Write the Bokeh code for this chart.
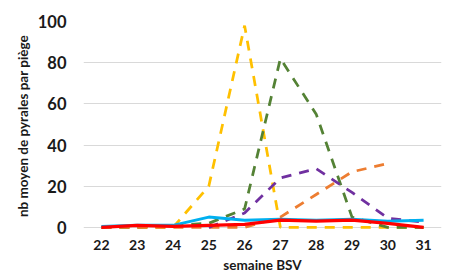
from bokeh.plotting import figure
from bokeh.models import Range1d, FixedTicker
from bokeh.embed import file_html
from bokeh.resources import INLINE

weeks = [22, 23, 24, 25, 26, 27, 28, 29, 30, 31]
y_ticks = [0, 20, 40, 60, 80, 100]

yellow_vals = [0, 0, 0, 20, 98, 0, 0, 0, 0, 0]
green_vals = [0, 0, 1, 2, 9, 82, 55, 5, 0, 0]
orange_vals = [0, 0, 0, 0, 0, 5, 16, 27, 31]
purple_vals = [None, None, None, 0, 7, 24, 28.5, 17, 4.5, 2.5]
blue_vals = [0.5, 1, 1, 5, 3.5, 4, 3.5, 4, 3, 3.5]
red_vals = [0, 1, 0.5, 1, 1.5, 3.5, 3, 3.5, 2, 0]

FONT = "Lato"

p = figure(width=449, height=276, output_backend="svg", toolbar_location=None,
           x_range=Range1d(21.5, 31.5), y_range=Range1d(-1.5, 100),
           min_border_left=83, min_border_right=8, min_border_top=21,
           min_border_bottom=46)
p.outline_line_color = None
p.background_fill_color = "white"
p.border_fill_color = "white"

p.xgrid.grid_line_color = None
p.ygrid.grid_line_color = "#D9D9D9"
p.ygrid.grid_line_width = 1
p.yaxis.ticker = FixedTicker(ticks=y_ticks)
p.xaxis.ticker = FixedTicker(ticks=weeks)

for ax in (p.xaxis, p.yaxis):
    ax.axis_line_color = None
    ax.major_tick_line_color = None
    ax.minor_tick_line_color = None
    ax.major_tick_out = 0
    ax.major_tick_in = 0
    ax.major_label_text_font = FONT
    ax.major_label_text_font_style = "bold"
    ax.major_label_text_color = "#1a1a1a"
    ax.axis_label_text_font = FONT
    ax.axis_label_text_font_style = "bold"
    ax.axis_label_text_color = "#1a1a1a"

p.yaxis.major_label_text_font_size = "16.5px"
p.yaxis.major_label_standoff = 17
p.yaxis.axis_label = "nb moyen de pyrales par piège"
p.yaxis.axis_label_text_font_size = "13.5px"
p.yaxis.axis_label_standoff = 4

p.xaxis.major_label_text_font_size = "14px"
p.xaxis.major_label_standoff = 9
p.xaxis.axis_label = "semaine BSV"
p.xaxis.axis_label_text_font_size = "13.5px"
p.xaxis.axis_label_standoff = 4

dash = "10 8"
w = 2.75
p.line(weeks, yellow_vals, line_color="#FFC000", line_width=w, line_dash=dash)
p.line(weeks, green_vals, line_color="#548235", line_width=w, line_dash=dash)
p.line(weeks[:9], orange_vals, line_color="#ED7D31", line_width=w, line_dash=dash)
p.line(weeks[3:], purple_vals[3:], line_color="#7030A0", line_width=w, line_dash=dash)
p.line(weeks, blue_vals, line_color="#00B0F0", line_width=3)
p.line(weeks, red_vals, line_color="#FF0000", line_width=3.25)

open("out.html", "w").write(file_html(p, INLINE))
